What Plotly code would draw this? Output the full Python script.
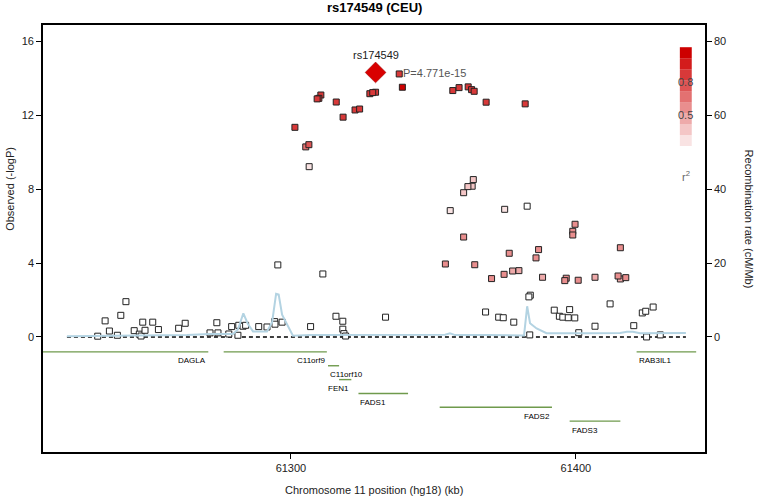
import math
import plotly.graph_objects as go

# ---------------- data ----------------
snp_pos = [61310.5, 61309.8, 61309.2, 61315.9, 61318.3, 61322.5, 61324.1, 61327.7, 61328.7, 61329.7,
           61339.1, 61338.0, 61356.8, 61359.0, 61362.2, 61363.4, 61364.3, 61368.5, 61382.2, 61301.4,
           61305.2, 61306.3, 61306.4,
           61364.0, 61363.6, 61362.1, 61360.6, 61355.9, 61375.0, 61382.9, 61399.7, 61398.9, 61398.9,
           61360.6, 61386.9, 61415.6, 61376.6, 61386.0, 61354.2, 61364.5, 61374.8, 61377.8, 61380.0,
           61370.4, 61388.3, 61396.6, 61396.1, 61400.8, 61406.7, 61414.8, 61415.6, 61417.5,
           61384.0, 61383.5, 61368.3, 61372.9, 61374.5, 61378.2, 61392.4, 61394.2, 61395.4, 61397.3,
           61399.6, 61397.8, 61412.0, 61406.7, 61420.3, 61423.3, 61424.5, 61427.1, 61383.8, 61401.0,
           61424.8, 61429.6, 61333.2,
           61295.4, 61311.2, 61242.1, 61240.3, 61234.8, 61236.3, 61232.2, 61239.1, 61245.0, 61246.8,
           61247.4, 61248.8, 61248.0, 61251.5, 61253.5, 61260.6, 61262.9, 61274.0, 61271.6, 61274.4,
           61278.2, 61279.2, 61281.4, 61281.7, 61283.2, 61284.1, 61288.7, 61291.6, 61294.3, 61294.4,
           61296.9, 61306.9, 61315.8, 61318.2, 61318.2, 61318.6, 61319.2]
snp_logp = [13.10, 12.92, 12.89, 12.72, 11.90, 12.29, 12.34, 13.17, 13.23, 13.25,
            13.52, 14.24, 13.34, 13.50, 13.54, 13.39, 13.30, 12.71, 12.62, 11.35,
            10.29, 10.41, 9.22,
            8.52, 8.16, 8.14, 7.81, 6.84, 6.91, 7.08, 6.10, 5.72, 5.52,
            5.41, 4.73, 4.83, 4.53, 4.28, 3.95, 3.91, 3.39, 3.57, 3.59,
            3.16, 3.23, 3.18, 3.05, 3.07, 3.23, 3.30, 3.14, 3.21,
            2.26, 2.17, 1.35, 1.07, 1.04, 0.80, 1.45, 1.12, 1.07, 1.04,
            1.03, 1.48, 1.79, 0.58, 0.61, 1.30, 1.39, 1.62, 0.11, 0.23,
            0.00, 0.11, 1.07,
            3.90, 3.41, 1.91, 1.17, 0.87, 0.32, 0.04, 0.09, 0.34, 0.15,
            0.05, 0.36, 0.80, 0.80, 0.40, 0.47, 0.74, 0.77, 0.22, 0.22,
            0.16, 0.56, 0.09, 0.63, 0.58, 0.63, 0.56, 0.54, 0.83, 0.69,
            0.80, 0.56, 1.12, 0.85, 0.42, 0.18, 0.05]
snp_r2 = [0.75, 0.75, 0.75, 0.75, 0.72, 0.75, 0.75, 0.78, 0.78, 0.75,
          0.95, 0.78, 0.75, 0.75, 0.75, 0.75, 0.75, 0.75, 0.72, 0.72,
          0.55, 0.68, 0.12,
          0.25, 0.25, 0.25, 0.22, 0.12, 0.12, 0.08, 0.42, 0.42, 0.42,
          0.42, 0.42, 0.42, 0.42, 0.42, 0.42, 0.42, 0.42, 0.35, 0.35,
          0.45, 0.35, 0.4, 0.4, 0.4, 0.35, 0.4, 0.35, 0.4,
          0.05, 0.05, 0, 0, 0, 0, 0, 0, 0, 0,
          0, 0, 0, 0, 0, 0, 0, 0, 0, 0,
          0, 0, 0,
          0, 0, 0, 0, 0, 0, 0, 0, 0, 0,
          0, 0, 0, 0, 0, 0, 0, 0, 0, 0,
          0, 0, 0, 0, 0, 0, 0, 0, 0, 0,
          0, 0, 0, 0, 0, 0, 0]

index_snp = "rs174549"
index_pos = 61329.7
index_p = 4.771e-15

recomb_pos = [61221.4, 61263.5, 61271.6, 61279.7, 61281.4, 61283.3, 61284.9, 61286.7, 61291.6,
              61293.4, 61294.8, 61295.7, 61296.9, 61297.9, 61300.7, 61306.7, 61331.2, 61354.1,
              61355.8, 61357.6, 61368.8, 61381.8, 61382.9, 61383.9, 61386.2, 61389.7, 61403.9,
              61415.5, 61417.9, 61420.0, 61422.5, 61427.0, 61438.6]
recomb_rate = [0.2, 0.5, 0.8, 0.8, 2.0, 6.4, 3.5, 1.5, 1.5,
               4.0, 11.7, 11.5, 6.0, 4.5, 0.3, 0.5, 0.6, 0.6,
               1.0, 0.5, 0.5, 0.4, 8.3, 3.7, 2.3, 1.0, 1.0,
               1.1, 1.4, 1.4, 1.0, 1.0, 1.1]

gene_names = ["DAGLA", "C11orf9", "C11orf10", "FEN1", "FADS1", "FADS2", "FADS3", "RAB3IL1"]
gene_start = [61190.0, 61276.4, 61313.0, 61316.9, 61323.7, 61352.2, 61397.8, 61421.3]
gene_end = [61271.0, 61312.6, 61316.9, 61321.2, 61341.1, 61391.6, 61415.6, 61442.2]
gene_row = [0, 0, 1, 2, 3, 4, 5, 0]

x_ticks = [61300, 61400]
y_ticks = [0, 4, 8, 12, 16]
y2_ticks = [0, 20, 40, 60, 80]
legend_ticks = [0.8, 0.5]

# ---------------- styling helpers ----------------
FONT = "Liberation Sans, Arial, sans-serif"
label_side = {"DAGLA": "end", "C11orf9": "end", "C11orf10": "start", "FEN1": "end",
              "FADS1": "start", "FADS2": "end", "FADS3": "start", "RAB3IL1": "start"}


def r2_color(r2):
    b = min(int(r2 * 10), 9)
    t = b / 9.0
    r = round(255 - t * 50)
    g = round(255 - t * 255)
    return "rgb(%d,%d,%d)" % (r, g, g)


fig = go.Figure()

# recombination rate
fig.add_trace(go.Scatter(x=recomb_pos, y=recomb_rate, yaxis="y2", mode="lines",
                         line=dict(color="#B3D3E2", width=2), hoverinfo="skip"))

# dashed baseline
fig.add_trace(go.Scatter(x=[recomb_pos[0], recomb_pos[-1]], y=[0, 0], mode="lines",
                         line=dict(color="black", width=1.6, dash="4px,3px"), hoverinfo="skip"))

# genes
row_y = lambda r: -0.81 - 0.75 * r
for name, s, e, r in zip(gene_names, gene_start, gene_end, gene_row):
    fig.add_trace(go.Scatter(x=[s, e], y=[row_y(r), row_y(r)], mode="lines",
                             line=dict(color="#6F9A4C", width=1.4), hoverinfo="skip"))
    if label_side[name] == "end":
        fig.add_annotation(x=e, y=row_y(r), text=name, showarrow=False, xanchor="right",
                           yanchor="middle", yshift=-9, font=dict(family=FONT, size=8, color="black"))
    else:
        fig.add_annotation(x=s, y=row_y(r), text=name, showarrow=False, xanchor="left",
                           yanchor="middle", yshift=-9, font=dict(family=FONT, size=8, color="black"))

# SNPs (low r2 first)
order = sorted(range(len(snp_pos)), key=lambda i: snp_r2[i])
fig.add_trace(go.Scatter(x=[snp_pos[i] for i in order], y=[snp_logp[i] for i in order],
                         mode="markers",
                         marker=dict(symbol="square", size=6,
                                     color=[r2_color(snp_r2[i]) for i in order],
                                     line=dict(color="#222222", width=1))))

index_logp = -math.log10(index_p)
fig.add_trace(go.Scatter(x=[index_pos], y=[index_logp], mode="markers",
                         marker=dict(symbol="diamond", size=16, color="#D90000",
                                     line=dict(color="#900000", width=0.5))))
fig.add_annotation(x=index_pos, y=index_logp, text=index_snp, showarrow=False, yshift=17,
                   xanchor="center", font=dict(family=FONT, size=11, color="#222"))
fig.add_annotation(x=index_pos, y=index_logp, text="P=%.3fe-15" % (index_p / 1e-15), showarrow=False,
                   xanchor="left", xshift=25, yshift=-1, font=dict(family=FONT, size=11, color="#555"))

# r2 legend bar (paper coords)
bx0, bx1 = 0.962, 0.980
by0, by1 = 0.691, 0.948
nb = 10
for b in range(nb):
    fig.add_shape(type="rect", xref="paper", yref="paper", x0=bx0, x1=bx1,
                  y0=by0 + (by1 - by0) * b / nb, y1=by0 + (by1 - by0) * (b + 1) / nb,
                  fillcolor=r2_color(b / nb + 0.01), line=dict(width=0), layer="above")
for v in legend_ticks:
    fig.add_annotation(xref="paper", yref="paper", x=(bx0 + bx1) / 2, y=by0 + (by1 - by0) * v,
                       text=str(v), showarrow=False, yshift=-5, xanchor="center",
                       font=dict(family=FONT, size=11, color="#444"))
fig.add_annotation(xref="paper", yref="paper", x=(bx0 + bx1) / 2, y=by0, text="r<sup>2</sup>",
                   showarrow=False, yshift=-10, xanchor="center",
                   font=dict(family=FONT, size=11, color="#666"))

# titles
fig.add_annotation(xref="paper", yref="paper", x=0.5, y=1.04, text="<b>rs174549 (CEU)</b>",
                   showarrow=False, yanchor="middle", xanchor="center",
                   font=dict(family=FONT, size=13, color="black"))
fig.add_annotation(xref="paper", yref="paper", x=-0.05, y=0.616, text="Observed (-logP)",
                   textangle=-90, showarrow=False, xanchor="center", yanchor="middle",
                   font=dict(family=FONT, size=11, color="#222"))
fig.add_annotation(xref="paper", yref="paper", x=1.066, y=0.545, text="Recombination rate (cM/Mb)",
                   textangle=90, showarrow=False, xanchor="center", yanchor="middle",
                   font=dict(family=FONT, size=11, color="#222"))
fig.add_annotation(xref="paper", yref="paper", x=0.5, y=-0.089,
                   text="Chromosome 11 position (hg18) (kb)", showarrow=False, yanchor="middle",
                   xanchor="center", font=dict(family=FONT, size=11, color="#222"))

axis_common = dict(showgrid=False, zeroline=False, showline=True, linecolor="black", linewidth=1.6,
                   ticks="outside", ticklen=5, tickwidth=1.4, tickcolor="black",
                   tickfont=dict(family=FONT, size=11, color="#222"))

fig.update_layout(
    width=760, height=500,
    margin=dict(l=43, r=55, t=25, b=48),
    paper_bgcolor="white", plot_bgcolor="white",
    showlegend=False,
    xaxis=dict(range=[61213, 61445.3], tickvals=x_ticks, tickformat="d", mirror=True, **axis_common),
    yaxis=dict(range=[-6.23, 16.89], tickvals=y_ticks, **axis_common),
    yaxis2=dict(range=[-31.15, 84.45], tickvals=y2_ticks, overlaying="y", side="right",
                **axis_common),
)

# remove the default page margin so the figure sits at the window's top-left corner
fig.write_html("out.html", config={"displayModeBar": False},
               post_script="document.body.style.margin='0px';")
